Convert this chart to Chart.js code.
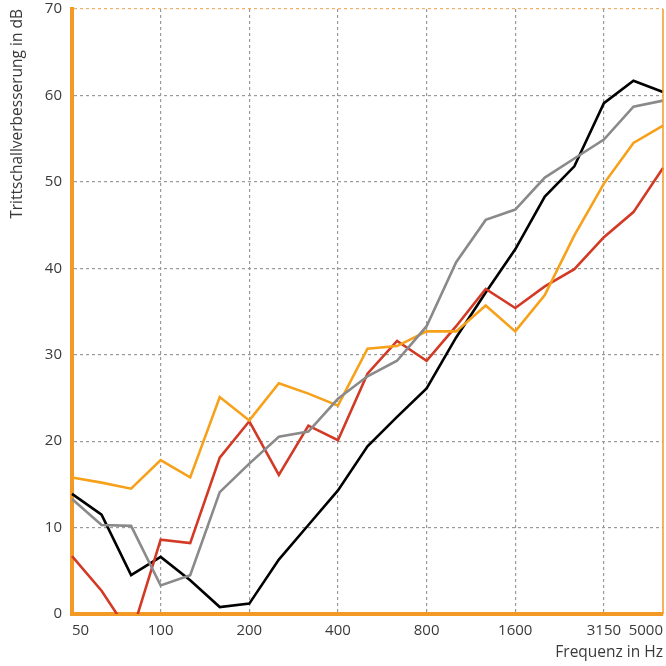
<!DOCTYPE html>
<html>
<head>
<meta charset="utf-8">
<script src="https://cdn.jsdelivr.net/npm/chart.js@4"></script>
<style>
html,body{margin:0;padding:0;background:#fff;}
#wrap{width:666px;height:666px;position:relative;}
</style>
</head>
<body>
<div id="wrap"><canvas id="c" width="666" height="666"></canvas></div>
<script>
const frequencies = ['50','63','80','100','125','160','200','250','315','400','500','630','800','1000','1250','1600','2000','2500','3150','4000','5000'];
const shownLabels = ['50','100','200','400','800','1600','3150','5000'];
const gridLabels = ['100','200','400','800','1600','3150'];

const seriesBlack  = [13.9,11.5,4.5,6.6,3.9,0.8,1.2,6.3,10.3,14.3,19.4,22.8,26.1,32.0,37.2,42.2,48.3,51.8,59.1,61.7,60.4];
const seriesGray   = [13.3,10.3,10.2,3.3,4.5,14.1,17.4,20.5,21.1,24.9,27.5,29.3,33.3,40.7,45.6,46.8,50.5,52.7,54.9,58.7,59.4];
const seriesRed    = [6.7,2.7,-2.5,8.6,8.2,18.1,22.3,16.1,21.8,20.1,27.8,31.6,29.3,33.3,37.6,35.4,37.9,39.9,43.6,46.5,51.6];
const seriesOrange = [15.8,15.2,14.5,17.8,15.8,25.1,22.4,26.7,25.5,24.1,30.7,31.0,32.7,32.7,35.7,32.7,36.9,43.8,49.8,54.5,56.5];

const yTicks = [0,10,20,30,40,50,60,70];

const ORANGE = '#F39A26';
const FONT = 'Open Sans';

const frame = {
  id:'frame',
  afterDraw(chart){
    const {ctx, chartArea:a} = chart;
    ctx.save();
    ctx.strokeStyle = ORANGE;
    ctx.lineWidth = 1.5;
    ctx.beginPath();
    ctx.moveTo(a.right, a.top);
    ctx.lineTo(a.right, a.bottom);
    ctx.stroke();
    ctx.restore();
  }
};

function ds(data, color){
  return {data, borderColor: color, backgroundColor: color, borderWidth: 2.6, pointRadius: 0, tension: 0, fill:false};
}

new Chart(document.getElementById('c'), {
  type:'line',
  data:{
    labels: frequencies,
    datasets:[
      ds(seriesGray,'#8a8a8a'),
      ds(seriesOrange,'#F7A11A'),
      ds(seriesRed,'#D23A26'),
      ds(seriesBlack,'#000000')
    ]
  },
  options:{
    responsive:false,
    animation:false,
    devicePixelRatio:1,
    layout:{padding:{top:9,right:3,left:0,bottom:0}},
    plugins:{legend:{display:false},tooltip:{enabled:false}},
    scales:{
      x:{
        type:'category',
        offset:false,
        afterFit(s){ s.height = 52; s.paddingRight = 0; s.paddingLeft = 0; },
        border:{display:true,color:ORANGE,width:4,dash:[3,3]},
        grid:{
          drawTicks:false,
          lineWidth:1.2,
          color:(c)=> (c.tick && gridLabels.includes(frequencies[c.index])) ? '#9a9a9a' : 'rgba(0,0,0,0)'
        },
        ticks:{
          autoSkip:false,
          maxRotation:0,
          align:'inner',
          padding:8,
          color:'#3a3a3a',
          font:{family:FONT,size:15},
          callback:(v,i)=> shownLabels.includes(frequencies[i]) ? frequencies[i] : ''
        },
        title:{display:true,text:'Frequenz in Hz',align:'end',color:'#3a3a3a',font:{family:FONT,size:15.5},padding:{top:0,bottom:4}}
      },
      y:{
        min:0,max:70,
        afterFit(s){ s.width = 72; s.paddingTop = 0; s.paddingBottom = 0; },
        afterBuildTicks(s){ s.ticks = yTicks.map(v=>({value:v})); },
        border:{display:true,color:ORANGE,width:4,dash:[3,3]},
        grid:{
          drawTicks:false,
          lineWidth:1.2,
          color:(c)=> c.tick.value===70 ? 'rgba(238,168,90,0.9)' : (c.tick.value===0 ? 'rgba(0,0,0,0)' : '#9a9a9a')
        },
        ticks:{
          padding:10,
          color:'#3a3a3a',
          font:{family:FONT,size:15}
        },
        title:{display:true,text:'Trittschallverbesserung in dB',align:'end',color:'#3a3a3a',font:{family:FONT,size:15.5},padding:{top:8,bottom:0}}
      }
    }
  },
  plugins:[frame]
});
</script>
</body>
</html>
